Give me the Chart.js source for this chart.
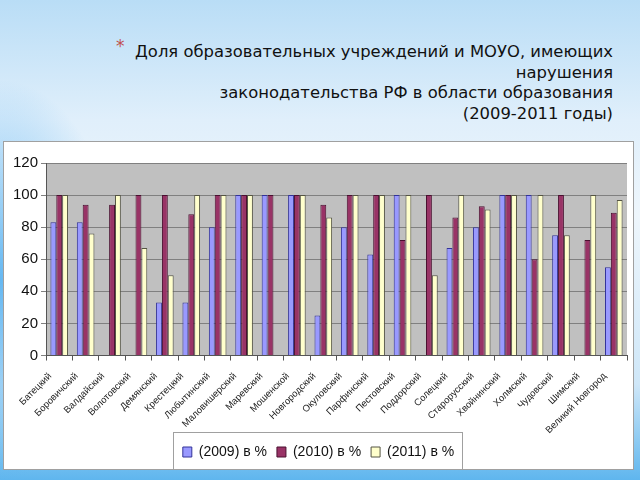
<!DOCTYPE html>
<html>
<head>
<meta charset="utf-8">
<script src="https://cdn.jsdelivr.net/npm/chart.js@4/dist/chart.umd.min.js"></script>
<style>
  html, body { margin: 0; padding: 0; }
  body {
    width: 640px; height: 480px; overflow: hidden; position: relative;
    background:
      radial-gradient(ellipse 120px 200px at 0px 280px, rgba(70,170,240,0.8), rgba(70,170,240,0) 100%),
      linear-gradient(to bottom, #b9ddf6 0%, #e0effb 25%, #eef6fc 45%, #cfe7f8 80%, #5fb6ee 100%);
  }
  .title {
    position: absolute; right: 27px; top: 42px;
    font-family: "DejaVu Sans", sans-serif; font-size: 16.4px; line-height: 20.7px;
    color: #111; text-align: right;
  }
  .star { position: absolute; left: 116px; top: 36px; color: #c0504d; font-family: "DejaVu Sans"; font-size: 17px; }
  .box {
    position: absolute; left: 3px; top: 141px; width: 629px; height: 327px;
    background: #fff; border: 1px solid #a0a0a0;
  }
</style>
</head>
<body>
<div class="star">*</div>
<div class="title">Доля образовательных учреждений и МОУО, имеющих<br>нарушения<br>законодательства РФ в области образования<br>(2009-2011 годы)</div>
<div class="box"><canvas id="chart" width="629" height="327"></canvas></div>
<script>
// районы
let districts = ['Батецкий', 'Боровичский', 'Валдайский', 'Волотовский', 'Демянский', 'Крестецкий',
  'Любытинский', 'Маловишерский', 'Маревский', 'Мошенской', 'Новгородский', 'Окуловский',
  'Парфинский', 'Пестовский', 'Поддорский', 'Солецкий', 'Старорусский', 'Хвойнинский',
  'Холмский', 'Чудовский', 'Шимский', 'Великий Новгород'];

// значения по годам, %
let y2009 = [83, 83, 0, 0, 33, 33, 80, 100, 100, 100, 25, 80, 63, 100, 0, 67, 80, 100, 100, 75, 0, 55];
let y2010 = [100, 94, 94, 100, 100, 88, 100, 100, 100, 100, 94, 100, 100, 72, 100, 86, 93, 100, 60, 100, 72, 89];
let y2011 = [100, 76, 100, 67, 50, 100, 100, 100, 0, 100, 86, 100, 100, 100, 50, 100, 91, 100, 100, 75, 100, 97];

let series_labels = ['(2009) в %', '(2010) в %', '(2011) в %'];
let y_ticks = [0, 20, 40, 60, 80, 100, 120];

// серый фон области построения
const plot_bg = {
  id: 'plot_bg',
  beforeDraw(chart) {
    const a = chart.chartArea;
    const c = chart.ctx;
    c.save();
    c.fillStyle = '#c0c0c0';
    c.fillRect(a.left, a.top, a.right - a.left, a.bottom - a.top);
    c.restore();
  }
};

// рамка вокруг легенды
const legend_box = {
  id: 'legend_box',
  afterDraw(chart) {
    const lg = chart.legend;
    if (!lg || !lg.legendHitBoxes.length) return;
    const hb = lg.legendHitBoxes;
    let l = hb[0].left, r = hb[hb.length - 1].left + hb[hb.length - 1].width;
    const c = chart.ctx;
    c.save();
    c.strokeStyle = '#a0a0a0';
    c.lineWidth = 1;
    c.strokeRect(Math.round(l - 10) + 0.5, Math.round(lg.top) - 2.5, Math.round(r - l + 18), chart.height);
    c.restore();
  }
};

const ctx = document.getElementById('chart');

new Chart(ctx, {
  type: 'bar',
  data: {
    labels: districts,
    datasets: [
      { label: series_labels[0], data: y2009, backgroundColor: '#9999ff', borderColor: '#333399', borderWidth: 1 },
      { label: series_labels[1], data: y2010, backgroundColor: '#993366', borderColor: '#4a1030', borderWidth: 1 },
      { label: series_labels[2], data: y2011, backgroundColor: '#ffffcc', borderColor: '#555544', borderWidth: 1 }
    ]
  },
  options: {
    responsive: false,
    animation: false,
    layout: { padding: { left: 6, right: 6, top: 21, bottom: 0 } },
    datasets: {
      bar: { categoryPercentage: 0.667, barPercentage: 1 }
    },
    scales: {
      x: {
        afterFit(axis) { axis.height = axis.height - 11; },
        grid: { display: true, drawOnChartArea: false, drawTicks: true, tickLength: 5, color: '#555' },
        border: { color: '#555' },
        ticks: {
          minRotation: 45, maxRotation: 45, autoSkip: false, padding: 10, labelOffset: -9,
          color: '#222', font: { family: 'Liberation Sans', size: 9.5 }
        }
      },
      y: {
        min: 0, max: 120,
        afterBuildTicks(axis) { axis.ticks = y_ticks.map(v => ({ value: v })); },
        grid: { color: '#808080', tickLength: 5 },
        border: { color: '#555' },
        ticks: { padding: 3, color: '#111', font: { family: 'Liberation Sans', size: 15 } }
      }
    },
    plugins: {
      tooltip: { enabled: false },
      legend: {
        position: 'bottom',
        labels: {
          boxWidth: 9, boxHeight: 10, padding: 10,
          color: '#111', font: { family: 'Liberation Sans', size: 14 }
        }
      }
    }
  },
  plugins: [plot_bg, legend_box]
});
</script>
</body>
</html>
